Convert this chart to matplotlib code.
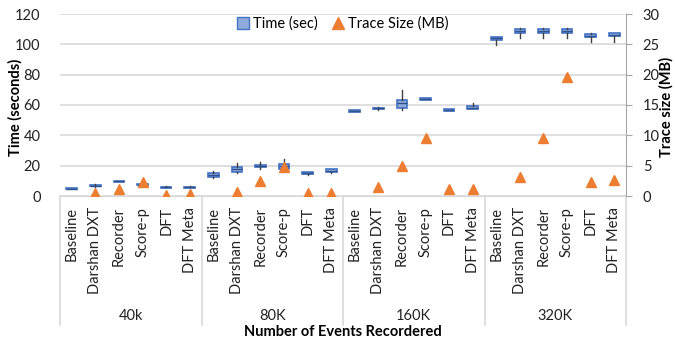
import numpy as np
import matplotlib
matplotlib.use('Agg')
import matplotlib.pyplot as plt
from matplotlib.lines import Line2D
import matplotlib.transforms as mtransforms

plt.rcParams['font.family'] = ['Lato', 'DejaVu Sans']

# groups and tools along the x axis
groups = ['40k', '80K', '160K', '320K']
tools = ['Baseline', 'Darshan DXT', 'Recorder', 'Score-p', 'DFT', 'DFT Meta']

# time (sec) box stats, 6 tools per group
time_lo = [4.6, 6.0, 9.3, 7.0, 5.5, 5.5,
           11.6, 14.9, 17.9, 17.0, 13.8, 15.3,
           55.3, 57.0, 56.9, 63.0, 56.0, 57.3,
           99.5, 104.5, 104.5, 104.5, 101.4, 101.8]
time_q1 = [4.6, 6.3, 9.4, 7.1, 5.6, 5.6,
           12.4, 15.8, 18.8, 18.0, 14.3, 15.8,
           55.6, 57.3, 58.3, 63.2, 56.2, 57.5,
           102.8, 107.8, 107.8, 107.8, 104.8, 105.2]
time_med = [4.9, 6.7, 9.7, 7.4, 5.9, 5.9,
            13.6, 17.5, 19.8, 20.0, 15.0, 16.8,
            56.1, 57.8, 61.0, 63.7, 56.7, 58.3,
            104.0, 109.0, 109.0, 109.0, 105.8, 106.3]
time_q3 = [5.2, 7.0, 9.9, 7.7, 6.2, 6.2,
           14.9, 19.2, 20.5, 21.4, 15.7, 17.6,
           56.7, 58.3, 63.0, 64.3, 57.3, 59.4,
           104.9, 110.1, 110.1, 110.1, 106.8, 107.4]
time_hi = [5.3, 7.9, 10.0, 7.8, 6.3, 6.4,
           16.6, 21.8, 22.1, 24.3, 15.9, 17.9,
           57.0, 58.5, 70.2, 64.5, 57.5, 61.6,
           105.1, 110.6, 110.6, 110.6, 107.3, 107.8]

# trace size (MB), no trace for baseline
trace_mb = [np.nan, 0.5, 1.1, 2.3, 0.2, 0.25,
            np.nan, 0.65, 2.4, 4.8, 0.45, 0.55,
            np.nan, 1.5, 5.0, 9.6, 1.1, 1.2,
            np.nan, 3.1, 9.6, 19.6, 2.3, 2.6]

blue_edge = '#4472C4'
blue_fill = '#8FAADC'
orange = '#ED7D31'
grid = '#D9D9D9'
txt = '#222222'
fs = 10.5

fig = plt.figure(figsize=(6.75, 3.43), dpi=100)
ax = fig.add_axes([60/675, 1-196/343, 566/675, 182/343])
ax2 = ax.twinx()

n = len(groups) * len(tools)
pos = np.arange(n)
stats = []
for i in range(n):
    stats.append({'whislo': time_lo[i], 'q1': time_q1[i], 'med': time_med[i],
                  'q3': time_q3[i], 'whishi': time_hi[i], 'fliers': []})
ax.bxp(stats, positions=pos, widths=0.45, patch_artist=True, showcaps=False,
       boxprops=dict(facecolor=blue_fill, edgecolor=blue_edge, linewidth=1.2),
       medianprops=dict(color='#2F528F', linewidth=1),
       whiskerprops=dict(color='#404040', linewidth=1), zorder=3)

ax2.plot(pos, trace_mb, linestyle='none', marker='^', markersize=7.5,
         color=orange, zorder=4)

ax.set_xlim(-0.5, n - 0.5)
ax.set_ylim(0, 120)
ax2.set_ylim(0, 30)
ax.set_yticks(range(0, 121, 20))
ax2.set_yticks(range(0, 31, 5))
ax.grid(axis='y', color=grid, linewidth=1.2)
ax.set_axisbelow(True)

for sp in ['top', 'right', 'left']:
    ax.spines[sp].set_visible(False)
for sp in ['top', 'left', 'bottom']:
    ax2.spines[sp].set_visible(False)
ax.spines['bottom'].set_color(grid)
ax2.spines['right'].set_color('#A6A6A6')

ax.tick_params(axis='y', length=0, pad=14, labelsize=fs, labelcolor=txt)
ax2.tick_params(axis='y', length=4, color='#A6A6A6', pad=8, labelsize=fs,
                labelcolor=txt)

ax.set_xticks(pos)
ax.set_xticklabels(tools * len(groups), rotation=90, fontsize=fs, color=txt)
ax.tick_params(axis='x', length=0, pad=8)

# group labels and dividers below the axis
trans = mtransforms.blended_transform_factory(ax.transData, ax.transAxes)
nt = len(tools)
for g, name in enumerate(groups):
    x0 = g * nt - 0.5
    ax.plot([x0, x0], [0, -0.71], transform=trans, color=grid, lw=1.2, clip_on=False)
    ax.text(x0 + nt / 2, -0.66, name, transform=trans, ha='center', va='center',
            fontsize=fs, color=txt)
ax.plot([n - 0.5, n - 0.5], [0, -0.71], transform=trans, color=grid, lw=1.2,
        clip_on=False)

fig.text(15/675, 1-107/343, 'Time (seconds)', rotation=90, ha='center',
         va='center', fontsize=fs, fontweight='bold')
fig.text(666/675, 1-107/343, 'Trace size (MB)', rotation=90, ha='center',
         va='center', fontsize=fs, fontweight='bold')
fig.text(343/675, 1-332/343, 'Number of Events Recordered', ha='center',
         va='center', fontsize=fs, fontweight='bold')

handles = [Line2D([], [], linestyle='none', marker='s', markersize=8,
                  markerfacecolor=blue_fill, markeredgecolor=blue_edge),
           Line2D([], [], linestyle='none', marker='^', markersize=8, color=orange)]
ax.legend(handles, ['Time (sec)', 'Trace Size (MB)'], loc='center',
          bbox_to_anchor=(0.5, 0.945), ncol=2, frameon=False, fontsize=fs,
          handlelength=0.8, handletextpad=0.3, columnspacing=1.0)

fig.savefig('out.png', dpi=100)
